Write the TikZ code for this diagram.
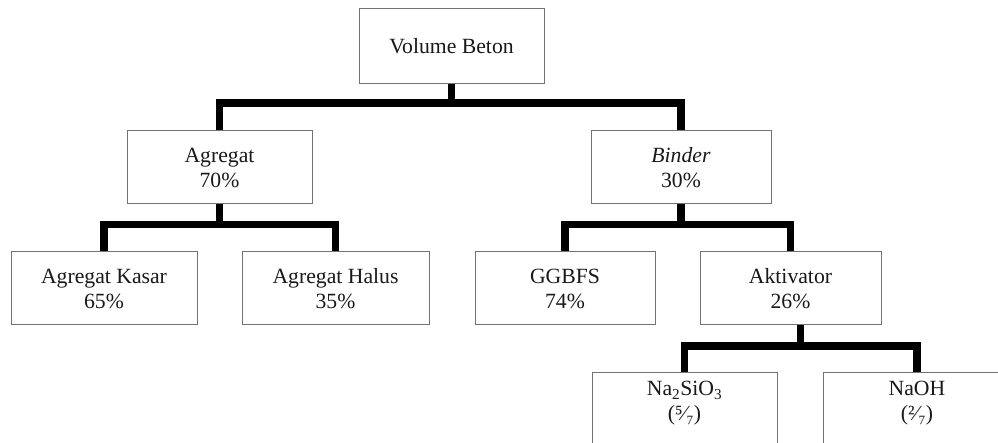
\documentclass[tikz,border=0pt]{standalone}
\usepackage{fontspec}
\setmainfont{Liberation Serif}
\begin{document}
\begin{tikzpicture}[x=1pt,y=-1pt,
  box/.style={draw=black!55, line width=1pt, fill=white, rectangle, align=center,
    inner sep=0pt, font=\fontsize{21.7}{25}\selectfont, text=black!90},
  conn/.style={draw=black, line width=7.5pt, line join=miter}]
\useasboundingbox (0,0) rectangle (998,443);
\clip (0,0) rectangle (998,443);
\fill[white] (0,0) rectangle (998,443);
% nodes
\node[box, minimum width=185pt, minimum height=75pt] (vb) at (451.5,46.5) {Volume Beton};
\node[box, minimum width=185pt, minimum height=73pt] (agg) at (219.5,167.5) {Agregat\\70\%};
\node[box, minimum width=180pt, minimum height=73pt] (bin) at (681,167.5) {\textit{Binder}\\30\%};
\node[box, minimum width=186pt, minimum height=73pt] (kas) at (104,288.5) {Agregat Kasar\\65\%};
\node[box, minimum width=187pt, minimum height=73pt] (hal) at (335.5,288.5) {Agregat Halus\\35\%};
\node[box, minimum width=180pt, minimum height=73pt] (gg) at (565,288.5) {GGBFS\\74\%};
\node[box, minimum width=181pt, minimum height=73pt] (akt) at (790.5,288.5) {Aktivator\\26\%};
\node[box, minimum width=185pt, minimum height=80pt] (na) at (684.5,412) {};
\node[box, minimum width=185pt, minimum height=80pt] (naoh) at (915.5,412) {};
\node[font=\fontsize{21.7}{25}\selectfont, text=black!90, align=center, anchor=north] (natxt) at (684.5,378)
  {Na\textsubscript{2}SiO\textsubscript{3}\\(⁵⁄₇)};
\node[font=\fontsize{21.7}{25}\selectfont, text=black!90, align=center, anchor=north] (nhtxt) at (917,378)
  {NaOH\\(²⁄₇)};
% junctions
\coordinate (j1) at (451.5,103);
\coordinate (j2) at (219.5,224.5);
\coordinate (j3) at (681,224.5);
\coordinate (j4) at (800.5,346);
% connectors
\draw[conn] (vb.south) -- (j1);
\draw[conn] (agg.north) |- (j1) -| (bin.north);
\draw[conn] (agg.south) -- (j2);
\draw[conn] (kas.north) |- (j2) -| (hal.north);
\draw[conn] (bin.south) -- (j3);
\draw[conn] (gg.north) |- (j3) -| (akt.north);
\draw[conn] (akt.south -| j4) -- (j4);
\draw[conn] (na.north) |- (j4) -| ([xshift=1.5pt]naoh.north);
\end{tikzpicture}
\end{document}
